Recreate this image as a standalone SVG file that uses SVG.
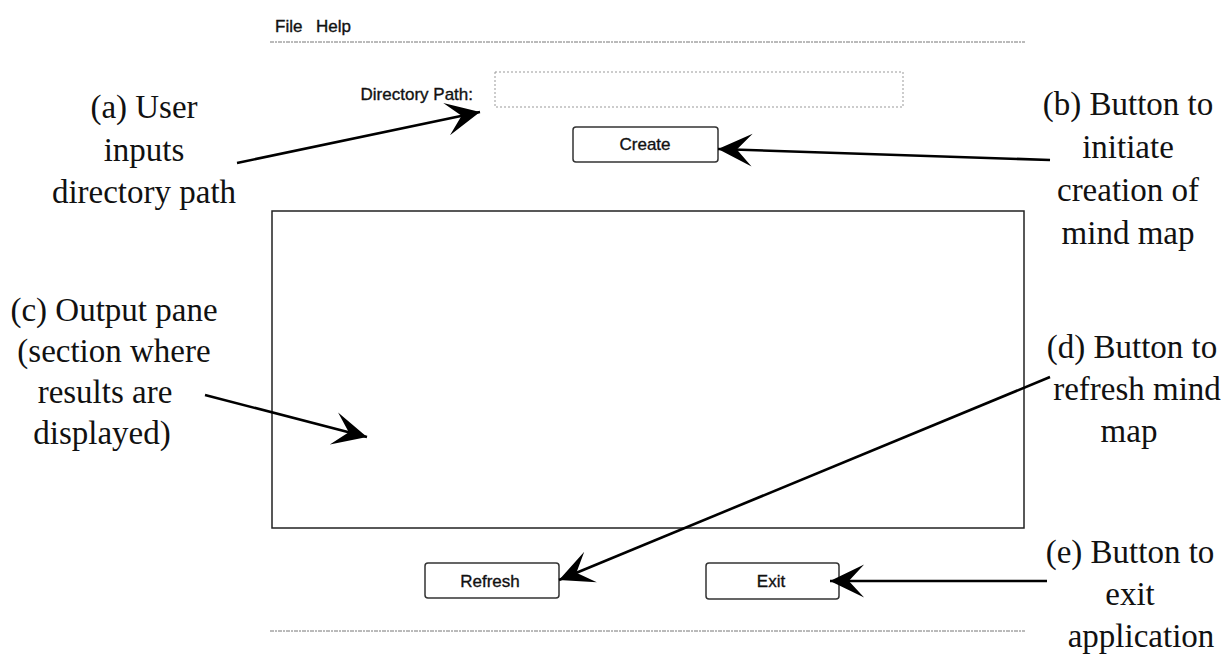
<svg xmlns="http://www.w3.org/2000/svg" width="1227" height="659" viewBox="0 0 1227 659">
<defs>
<style>
.ui{font-family:"Liberation Sans","DejaVu Sans",Arial,sans-serif;fill:#111;stroke:#111;stroke-width:0.35;}
.lbl{font-family:"Liberation Serif","Times New Roman",serif;font-size:33px;fill:#111;text-anchor:middle;}
.btn{fill:#fff;stroke:#333;stroke-width:1.5;}
.sep{stroke:#777;stroke-width:1;stroke-dasharray:4 1 2 1;fill:none;}
.pane{fill:#fff;stroke:#222;stroke-width:1.5;}
.tbox{fill:#fff;stroke:#999;stroke-width:1;stroke-dasharray:2 2;}
.arr{stroke:#000;stroke-width:2.6;fill:none;marker-end:url(#head);}
</style>
<marker id="head" markerUnits="userSpaceOnUse" markerWidth="40" markerHeight="40" viewBox="-32 -16 34 32" refX="0" refY="0" orient="auto">
<path d="M0,0 L-29,-14 L-16,0 L-29,14 Z" fill="#000"/>
</marker>
</defs>
<rect width="1227" height="659" fill="#fff"/>

<g id="menu">
<text class="ui" x="275" y="32" font-size="17">File</text>
<text class="ui" x="316" y="32" font-size="17">Help</text>
<line class="sep" x1="270" y1="42" x2="1025" y2="42"/>
</g>

<g id="directory">
<text class="ui" x="473" y="100" font-size="17" text-anchor="end">Directory Path:</text>
<rect class="tbox" x="495" y="72" width="408" height="35"/>
</g>

<g id="create">
<rect class="btn" x="573" y="127" width="145" height="35" rx="3"/>
<text class="ui" x="645" y="150" font-size="17" text-anchor="middle">Create</text>
</g>

<g id="output-pane">
<rect class="pane" x="272" y="211" width="752" height="317"/>
</g>

<g id="refresh">
<rect class="btn" x="425" y="563" width="134" height="35" rx="3"/>
<text class="ui" x="490" y="587" font-size="17" text-anchor="middle">Refresh</text>
</g>

<g id="exit">
<rect class="btn" x="706" y="563" width="133" height="36" rx="3"/>
<text class="ui" x="771" y="587" font-size="17" text-anchor="middle">Exit</text>
</g>

<g id="bottom-line">
<line class="sep" x1="270" y1="631" x2="1025" y2="631"/>
</g>

<g id="label-a">
<text class="lbl" x="144" y="118">(a) User</text>
<text class="lbl" x="144" y="161">inputs</text>
<text class="lbl" x="144" y="203">directory path</text>
</g>

<g id="label-b">
<text class="lbl" x="1128" y="115">(b) Button to</text>
<text class="lbl" x="1128" y="158">initiate</text>
<text class="lbl" x="1128" y="201">creation of</text>
<text class="lbl" x="1128" y="244">mind map</text>
</g>

<g id="label-c">
<text class="lbl" x="114" y="321">(c) Output pane</text>
<text class="lbl" x="114" y="362">(section where</text>
<text class="lbl" x="105" y="403">results are</text>
<text class="lbl" x="102" y="444">displayed)</text>
</g>

<g id="label-d">
<text class="lbl" x="1132" y="358">(d) Button to</text>
<text class="lbl" x="1137" y="400">refresh mind</text>
<text class="lbl" x="1129" y="442">map</text>
</g>

<g id="label-e">
<text class="lbl" x="1130" y="563">(e) Button to</text>
<text class="lbl" x="1130" y="605">exit</text>
<text class="lbl" x="1141" y="647">application</text>
</g>

<g id="connectors">
<line class="arr" x1="237" y1="163" x2="480" y2="112"/>
<line class="arr" x1="1050" y1="160" x2="718" y2="149"/>
<line class="arr" x1="205" y1="395" x2="367" y2="437"/>
<line class="arr" x1="1050" y1="377" x2="559" y2="580"/>
<line class="arr" x1="1047" y1="581" x2="830" y2="581"/>
</g>
</svg>
